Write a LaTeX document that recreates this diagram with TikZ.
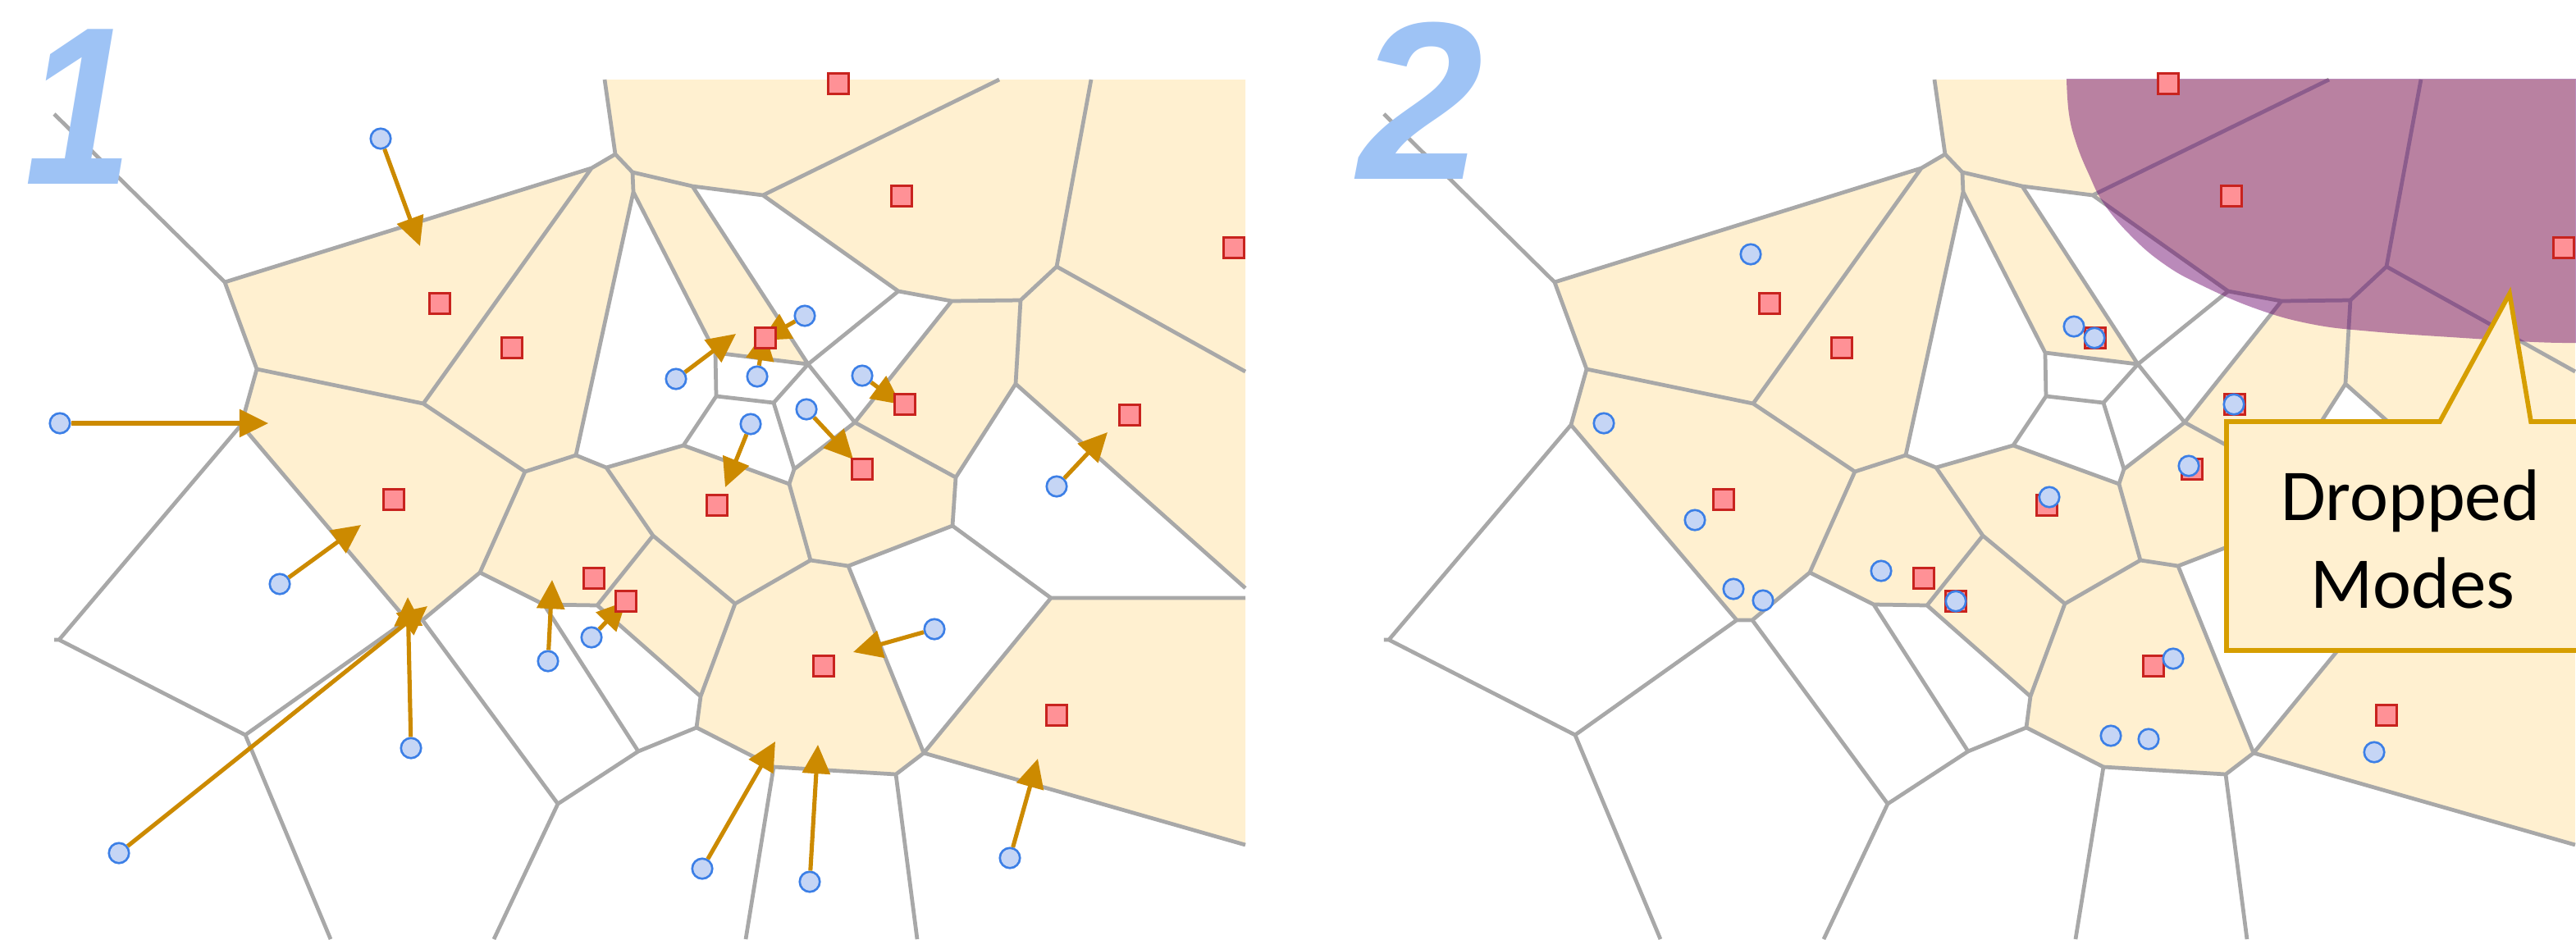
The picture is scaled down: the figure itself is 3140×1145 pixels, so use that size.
\documentclass[tikz,border=0pt]{standalone}
\usepackage{fontspec}
\setmainfont{Carlito}
\newfontfamily\numfont{Liberation Sans}
\newfontfamily\numfontn[FakeStretch=0.86]{Liberation Sans}
\usetikzlibrary{arrows.meta}
\definecolor{tanc}{RGB}{255,240,208}
\definecolor{edgec}{RGB}{168,168,168}
\definecolor{sqfill}{RGB}{255,145,150}
\definecolor{sqdraw}{RGB}{200,35,30}
\definecolor{cifill}{RGB}{197,213,245}
\definecolor{cidraw}{RGB}{60,127,230}
\definecolor{arrc}{RGB}{204,138,0}
\definecolor{numc}{RGB}{158,195,245}
\definecolor{purp}{RGB}{110,10,110}
\definecolor{callc}{RGB}{214,158,0}
\tikzset{
  vedge/.style={draw=edgec, line width=1.35pt, line join=round},
  tancell/.style={fill=tanc},
  sq/.style={rectangle, draw=sqdraw, fill=sqfill, line width=0.75pt, minimum size=0.25cm, inner sep=0pt},
  ci/.style={circle, draw=cidraw, fill=cifill, line width=0.75pt, minimum size=0.245cm, inner sep=0pt},
  arr/.style={draw=arrc, line width=1.45pt, -{Triangle[length=10pt,width=9.5pt]}},
  numlabel/.style={text=numc, inner sep=0pt, font=\numfont\bfseries\itshape\fontsize{78}{78}\selectfont},
  numlabeln/.style={text=numc, inner sep=0pt, font=\numfontn\bfseries\itshape\fontsize{78}{78}\selectfont},
  calltext/.style={inner sep=0pt, font=\fontsize{25.3}{30}\selectfont},
  callout/.style={draw=callc, fill=tanc, line width=1.6pt}
}
\newcommand\vorbase{%
  \coordinate (Va) at (274,344);  \coordinate (Vb) at (721,205);
  \coordinate (Vc) at (750,188);  \coordinate (Vd) at (313,450);
  \coordinate (Ve) at (516,492);  \coordinate (Vf) at (294,518);
  \coordinate (Vg) at (72,780);   \coordinate (Vh) at (496,756);
  \coordinate (Vi) at (515,756);  \coordinate (Vj) at (299,896);
  \coordinate (Vk) at (680,980);  \coordinate (Vl) at (585,698);
  \coordinate (Vm) at (640,575);  \coordinate (Vn) at (702,555);
  \coordinate (Vo) at (772,234);  \coordinate (Vp) at (663,737);
  \coordinate (Vq) at (728,738);  \coordinate (Vr) at (778,916);
  \coordinate (Vs) at (849,887);  \coordinate (Vt) at (796,653);
  \coordinate (Vu) at (854,849);  \coordinate (Vv) at (943,935);
  \coordinate (Vw) at (896,736);  \coordinate (Vx) at (988,683);
  \coordinate (Vy) at (1034,690); \coordinate (Vz) at (962,590);
  \coordinate (Vza) at (968,572); \coordinate (Vaa) at (1092,944);
  \coordinate (Vbb) at (1126,918); \coordinate (Vcc) at (1281,729);
  \coordinate (Vdd) at (1161,641); \coordinate (Vee) at (771,210);
  \coordinate (Vff) at (844,227); \coordinate (Vgg) at (930,238);
  \coordinate (Vhh) at (1095,355); \coordinate (Vii) at (1160,367);
  \coordinate (Vjj) at (1244,366); \coordinate (Vkk) at (1288,325);
  \coordinate (Vll) at (1238,468); \coordinate (Vmm) at (1165,582);
  \coordinate (Vnn) at (985,444); \coordinate (Voo) at (1042,515);
  \coordinate (Vpp) at (943,491); \coordinate (Vqq) at (833,543);
  \coordinate (Vrr) at (873,483); \coordinate (Vss) at (872,430);
  \coordinate (Vtt) at (739,570);
  \coordinate (B1) at (66,139);   \coordinate (B2) at (737,97);
  \coordinate (B3) at (1218,97);  \coordinate (B4) at (1330,97);
  \coordinate (B5) at (1518,453); \coordinate (B6) at (1518,717);
  \coordinate (B7) at (1518,729); \coordinate (B8) at (1518,1030);
  \coordinate (B9) at (1518,97);  \coordinate (B10) at (66,780);
  \coordinate (B11) at (403,1145); \coordinate (B12) at (602,1145);
  \coordinate (B13) at (909,1145); \coordinate (B14) at (1118,1145);
  % tan cells
  \fill[tancell] (B2)--(Vc)--(Vee)--(Vff)--(Vgg)--(B3)--cycle;
  \fill[tancell] (B3)--(Vgg)--(Vhh)--(Vii)--(Vjj)--(Vkk)--(B4)--cycle;
  \fill[tancell] (B4)--(Vkk)--(B5)--(B9)--cycle;
  \fill[tancell] (Va)--(Vb)--(Ve)--(Vd)--cycle;
  \fill[tancell] (Vb)--(Vc)--(Vee)--(Vo)--(Vn)--(Vm)--(Ve)--cycle;
  \fill[tancell] (Vee)--(Vff)--(Vnn)--(Vss)--(Vo)--cycle;
  \fill[tancell] (Voo)--(Vii)--(Vjj)--(Vll)--(Vmm)--cycle;
  \fill[tancell] (Vkk)--(B5)--(B6)--(Vll)--(Vjj)--cycle;
  \fill[tancell] (Vz)--(Vza)--(Voo)--(Vmm)--(Vdd)--(Vy)--(Vx)--cycle;
  \fill[tancell] (Vd)--(Ve)--(Vm)--(Vl)--(Vi)--(Vh)--(Vf)--cycle;
  \fill[tancell] (Vtt)--(Vqq)--(Vz)--(Vx)--(Vw)--(Vt)--cycle;
  \fill[tancell] (Vm)--(Vn)--(Vtt)--(Vt)--(Vq)--(Vp)--(Vl)--cycle;
  \fill[tancell] (Vq)--(Vt)--(Vw)--(Vu)--cycle;
  \fill[tancell] (Vx)--(Vy)--(Vbb)--(Vaa)--(Vv)--(Vs)--(Vu)--(Vw)--cycle;
  \fill[tancell] (Vcc)--(B7)--(B8)--(Vbb)--cycle;
  % edges
  \draw[vedge] (B1)--(Va)--(Vb)--(Vc)--(B2)
    (Vc)--(Vee)--(Vff)--(Vgg)--(B3)
    (Vee)--(Vo)--(Vss)--(Vnn)--(Vhh)--(Vgg)
    (Vo)--(Vn)--(Vm)--(Ve)--(Vb)
    (Vhh)--(Vii)--(Vjj)--(Vkk)--(B4)
    (Vkk)--(B5)
    (Vjj)--(Vll)--(B6)
    (Vll)--(Vmm)--(Vdd)--(Vcc)--(B7)
    (Vmm)--(Voo)--(Vii)
    (Voo)--(Vnn)--(Vff)
    (Voo)--(Vza)--(Vz)--(Vqq)--(Vtt)--(Vn)
    (Vnn)--(Vpp)--(Vza)
    (Vss)--(Vrr)--(Vpp)
    (Vrr)--(Vqq)
    (Vz)--(Vx)--(Vy)--(Vdd)
    (Vtt)--(Vt)--(Vw)--(Vx)
    (Vm)--(Vl)--(Vp)--(Vq)--(Vt)
    (Ve)--(Vd)--(Va)
    (Vd)--(Vf)--(Vg)--(B10)
    (Vf)--(Vh)--(Vj)--(Vg)
    (Vh)--(Vi)--(Vl)
    (Vi)--(Vk)--(B12)
    (Vj)--(B11)
    (Vk)--(Vr)--(Vp)
    (Vq)--(Vu)--(Vw)
    (Vu)--(Vs)--(Vr)
    (Vs)--(Vv)--(B13)
    (Vv)--(Vaa)--(B14)
    (Vaa)--(Vbb)--(B8)
    (Vbb)--(Vy)
    (Vbb)--(Vcc);
}
\begin{document}
\begin{tikzpicture}[x=0.01cm, y=-0.01cm]
\useasboundingbox (0,0) rectangle (3140,1145);
\clip (0,0) rectangle (3140,1145);
% ---------------- panel 1 ----------------
\begin{scope}
  \vorbase
\end{scope}
\node[numlabeln, anchor=base] (n1) at (96,224) {1};
% circles
\node[ci] (c1) at (464,169) {};
\node[ci] (c2) at (73,516) {};
\node[ci] (c3) at (981,385) {};
\node[ci] (c4) at (824,462) {};
\node[ci] (c5) at (923,459) {};
\node[ci] (c6) at (1051,458) {};
\node[ci] (c7) at (983,499) {};
\node[ci] (c8) at (915,517) {};
\node[ci] (c9) at (1288,593) {};
\node[ci] (c10) at (341,712) {};
\node[ci] (c11) at (1139,767) {};
\node[ci] (c12) at (721,777) {};
\node[ci] (c13) at (668,806) {};
\node[ci] (c14) at (501,912) {};
\node[ci] (c15) at (145,1040) {};
\node[ci] (c16) at (856,1059) {};
\node[ci] (c17) at (987,1075) {};
\node[ci] (c18) at (1231,1046) {};
% arrow tips
\coordinate (t1) at (512,300);
\coordinate (t2) at (327,516);
\coordinate (t3) at (928,415);
\coordinate (t4) at (897,407);
\coordinate (t5) at (932,404);
\coordinate (t6) at (1098,493);
\coordinate (t7) at (1040,560);
\coordinate (t8) at (884,594);
\coordinate (t9) at (1350,527);
\coordinate (t10) at (440,640);
\coordinate (t11) at (1040,795);
\coordinate (t12) at (763,733);
\coordinate (t13) at (673,707);
\coordinate (t14) at (497,728);
\coordinate (t15) at (521,739);
\coordinate (t16) at (945,904);
\coordinate (t17) at (997,908);
\coordinate (t18) at (1265,925);
\foreach \i in {1,...,18} { \draw[arr] (c\i) -- (t\i); }
% squares
\node[sq] (s1) at (1022,102) {};
\node[sq] (s2) at (1099,239) {};
\node[sq] (s3) at (1504,302) {};
\node[sq] (s4) at (536,370) {};
\node[sq] (s5) at (624,424) {};
\node[sq] (s6) at (933,412) {};
\node[sq] (s7) at (1103,493) {};
\node[sq] (s8) at (1377,506) {};
\node[sq] (s9) at (1051,572) {};
\node[sq] (s10) at (480,609) {};
\node[sq] (s11) at (874,616) {};
\node[sq] (s12) at (724,705) {};
\node[sq] (s13) at (763,733) {};
\node[sq] (s14) at (1004,812) {};
\node[sq] (s15) at (1288,872) {};
% ---------------- panel 2 ----------------
\begin{scope}[xshift=16.2cm]
  \vorbase
  \fill[purp, opacity=0.48] (2518-1620,96) -- (3160-1620,96) -- (3160-1620,418)
    -- plot[smooth, tension=0.7] coordinates {(3138-1620,418) (3088-1620,417) (2986-1620,411)
      (2889-1620,404) (2816-1620,395) (2748-1620,376) (2681-1620,347) (2637-1620,322)
      (2598-1620,289) (2564-1620,249) (2545-1620,212) (2530-1620,175) (2521-1620,139)
      (2518-1620,96)} -- cycle;
  \node[sq] (q1) at (1022,102) {};
  \node[sq] (q2) at (1099,239) {};
  \node[sq] (q3) at (1504,302) {};
  \node[sq] (q4) at (536,370) {};
  \node[sq] (q5) at (624,424) {};
  \node[sq] (q6) at (933,412) {};
  \node[sq] (q7) at (1103,493) {};
  \node[sq] (q8) at (1377,506) {};
  \node[sq] (q9) at (1051,572) {};
  \node[sq] (q10) at (480,609) {};
  \node[sq] (q11) at (874,616) {};
  \node[sq] (q12) at (724,705) {};
  \node[sq] (q13) at (763,733) {};
  \node[sq] (q14) at (1004,812) {};
  \node[sq] (q15) at (1288,872) {};
\end{scope}
\node[numlabel, anchor=base] (n2) at (1732,218) {2};
\node[ci] (r1) at (2134,310) {};
\node[ci] (r2) at (1955,516) {};
\node[ci] (r3) at (2066,634) {};
\node[ci] (r4) at (2113,718) {};
\node[ci] (r5) at (2149,732) {};
\node[ci] (r6) at (2528,398) {};
\node[ci] (r7) at (2553,412) {};
\node[ci] (r8) at (2723,493) {};
\node[ci] (r9) at (2498,606) {};
\node[ci] (r10) at (2668,568) {};
\node[ci] (r11) at (2293,696) {};
\node[ci] (r12) at (2384,733) {};
\node[ci] (r13) at (2649,803) {};
\node[ci] (r14) at (2573,897) {};
\node[ci] (r15) at (2619,901) {};
\node[ci] (r16) at (2894,917) {};
% callout
\draw[callout] (3170,514) -- (3085,514) -- (3059,358) -- (2974,514) -- (2714,514)
  -- (2714,793) -- (3170,793);
\node[calltext, anchor=base] (dm1) at (2938,634) {Dropped};
\node[calltext, anchor=base] (dm2) at (2941,741) {Modes};
\end{tikzpicture}
\end{document}
